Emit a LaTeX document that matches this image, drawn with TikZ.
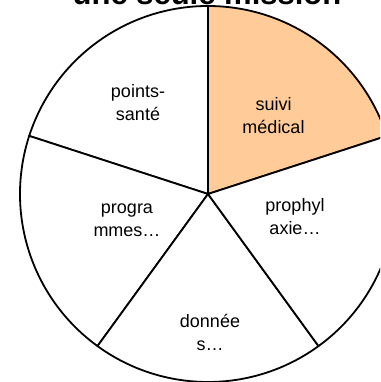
\documentclass[tikz,border=0pt]{standalone}
\usepackage{fontspec}
\setmainfont{Liberation Sans}
\definecolor{peach}{HTML}{FFCC99}
\begin{document}
\begin{tikzpicture}[x=1pt,y=1pt,
  lbl/.style={align=center, font=\fontsize{18}{23}\selectfont, inner sep=0pt, text=black},
  slice/.style={draw=black, line width=1.8pt, line join=round},
  ttl/.style={font=\bfseries\fontsize{31}{36}\selectfont, inner sep=0pt, anchor=base}]
\useasboundingbox (0,0) rectangle (380,382);
\clip (0,0) rectangle (380,382);
\fill[white] (0,0) rectangle (380,382);
\coordinate (c) at (208,188);
% slices
\filldraw[slice, fill=peach] (c) -- ++(18:188) arc[start angle=18, end angle=90, radius=188] -- cycle;
\filldraw[slice, fill=white] (c) -- ++(90:188) arc[start angle=90, end angle=162, radius=188] -- cycle;
\filldraw[slice, fill=white] (c) -- ++(162:188) arc[start angle=162, end angle=234, radius=188] -- cycle;
\filldraw[slice, fill=white] (c) -- ++(234:188) arc[start angle=234, end angle=306, radius=188] -- cycle;
\filldraw[slice, fill=white] (c) -- ++(306:188) arc[start angle=306, end angle=378, radius=188] -- cycle;
% title
\node[ttl] (title) at (207,377) {une seule mission};
% labels
\node[lbl] (sante) at (138,279) {points-\\santé};
\node[lbl] (suivi) at (273.5,266) {suivi\\médical};
\node[lbl] (progr) at (127,162) {progra\\mmes…};
\node[lbl] (proph) at (295,165) {prophyl\\axie…};
\node[lbl] (donne) at (210,50) {donnée\\s…};
\end{tikzpicture}
\end{document}
